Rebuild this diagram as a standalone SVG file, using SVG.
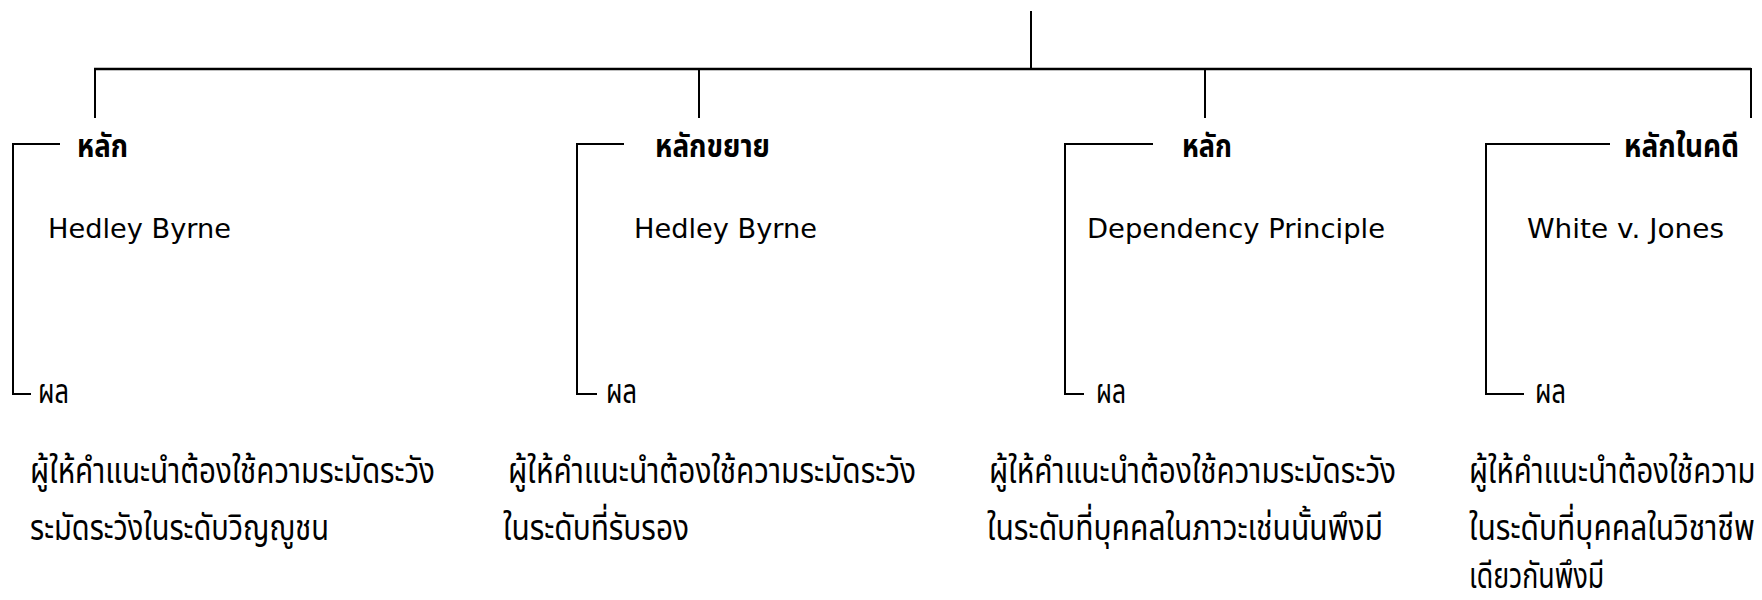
<svg xmlns="http://www.w3.org/2000/svg" width="1762" height="600" viewBox="0 0 1762 600">
<style>
.ln{fill:none;stroke:#000;stroke-width:2;stroke-linecap:butt}
.hd{font-family:"Noto Sans Thai","Noto Sans","DejaVu Sans",sans-serif;font-weight:bold;font-size:32px;fill:#000}
.nm{font-family:"DejaVu Sans","Noto Sans",sans-serif;font-size:27px;fill:#000}
.rs{font-family:"Noto Sans Thai","Noto Sans","DejaVu Sans",sans-serif;font-size:33px;fill:#000}
.tx{font-family:"Noto Sans Thai","Noto Sans","DejaVu Sans",sans-serif;font-size:36px;fill:#000}
</style>
<rect width="1762" height="600" fill="#fff"/>
<g id="connectors">
<path class="ln" d="M1031,11 V69"/>
<path class="ln" d="M94,69 H1751" style="stroke-width:2.3"/>
<path class="ln" d="M95,69 V118"/>
<path class="ln" d="M699,69 V118"/>
<path class="ln" d="M1205,69 V118"/>
<path class="ln" d="M1751,68 V118"/>
<path class="ln" d="M60,144 H13 V394 H31"/>
<path class="ln" d="M624,144 H577 V394 H597"/>
<path class="ln" d="M1153,144 H1065 V394 H1084"/>
<path class="ln" d="M1610,144 H1486 V394 H1524"/>
</g>
<g id="node1">
<text class="hd" x="77" y="157" textLength="51" lengthAdjust="spacingAndGlyphs">หลัก</text>
<text class="nm" x="48" y="238" textLength="183" lengthAdjust="spacingAndGlyphs">Hedley Byrne</text>
<text class="rs" x="38" y="403" textLength="31" lengthAdjust="spacingAndGlyphs">ผล</text>
<text class="tx" x="30" y="483" textLength="405" lengthAdjust="spacingAndGlyphs">ผู้ให้คำแนะนำต้องใช้ความระมัดระวัง</text>
<text class="tx" x="30" y="540" textLength="299" lengthAdjust="spacingAndGlyphs">ระมัดระวังในระดับวิญญูชน</text>
</g>
<g id="node2">
<text class="hd" x="655" y="157" textLength="115" lengthAdjust="spacingAndGlyphs">หลักขยาย</text>
<text class="nm" x="634" y="238" textLength="183" lengthAdjust="spacingAndGlyphs">Hedley Byrne</text>
<text class="rs" x="606" y="403" textLength="31" lengthAdjust="spacingAndGlyphs">ผล</text>
<text class="tx" x="508" y="483" textLength="408" lengthAdjust="spacingAndGlyphs">ผู้ให้คำแนะนำต้องใช้ความระมัดระวัง</text>
<text class="tx" x="503" y="540" textLength="186" lengthAdjust="spacingAndGlyphs">ในระดับที่รับรอง</text>
</g>
<g id="node3">
<text class="hd" x="1182" y="157" textLength="50" lengthAdjust="spacingAndGlyphs">หลัก</text>
<text class="nm" x="1087" y="238" textLength="298" lengthAdjust="spacingAndGlyphs">Dependency Principle</text>
<text class="rs" x="1096" y="403" textLength="30" lengthAdjust="spacingAndGlyphs">ผล</text>
<text class="tx" x="989" y="483" textLength="407" lengthAdjust="spacingAndGlyphs">ผู้ให้คำแนะนำต้องใช้ความระมัดระวัง</text>
<text class="tx" x="987" y="540" textLength="396" lengthAdjust="spacingAndGlyphs">ในระดับที่บุคคลในภาวะเช่นนั้นพึงมี</text>
</g>
<g id="node4">
<text class="hd" x="1624" y="157" textLength="115" lengthAdjust="spacingAndGlyphs">หลักในคดี</text>
<text class="nm" x="1527" y="238" textLength="197" lengthAdjust="spacingAndGlyphs">White v. Jones</text>
<text class="rs" x="1535" y="403" textLength="31" lengthAdjust="spacingAndGlyphs">ผล</text>
<text class="tx" transform="translate(1469,483) scale(0.76,1)" x="0" y="0" textLength="377" lengthAdjust="spacingAndGlyphs">ผู้ให้คำแนะนำต้องใช้ความ</text>
<text class="tx" transform="translate(1469,540) scale(0.76,1)" x="0" y="0" textLength="376" lengthAdjust="spacingAndGlyphs">ในระดับที่บุคคลในวิชาชีพ</text>
<text class="tx" transform="translate(1469,588) scale(0.76,0.97)" x="0" y="0" textLength="178" lengthAdjust="spacingAndGlyphs">เดียวกันพึงมี</text>
</g>
</svg>
